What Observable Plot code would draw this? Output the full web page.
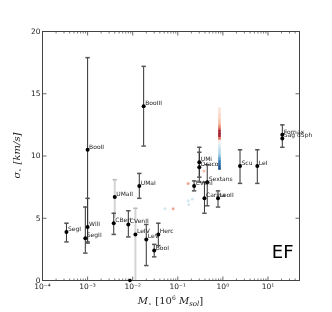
<!DOCTYPE html>
<html><head><meta charset="utf-8">
<script src="https://cdn.jsdelivr.net/npm/d3@7"></script>
<script src="https://cdn.jsdelivr.net/npm/@observablehq/plot@0.6"></script>
<style>body{margin:0;background:#fff} svg{display:block; will-change: transform; opacity: 0.999}</style>
</head><body><div id="chart"></div>
<script>
// Dwarf galaxies: stellar mass [1e6 Msun], velocity dispersion [km/s]
const names   = ["SegI","WilI","SegII","BooII","CBerI","UMaII","CVenII","LeIV","UMaI","BooIII","LeV","BooI","Herc","CVenI","UMi","Draco","Sextans","Carina","LeoII","Scu","LeI","Fornax","Sag dSph"];
const mass    = [3.4e-4,1.0e-3,8.9e-4,1.0e-3,3.8e-3,4.0e-3,8.0e-3,1.15e-2,1.4e-2,1.75e-2,2.0e-2,3.0e-2,3.7e-2,0.23,0.30,0.30,0.45,0.39,0.78,2.4,5.8,20.8,20.8];
const sigma   = [3.9,4.3,3.4,10.5,4.6,6.7,4.5,3.7,7.6,14.0,3.3,2.4,3.7,7.6,9.5,9.1,7.9,6.6,6.6,9.2,9.2,11.7,11.4];
const sigmaLo = [3.1,3.0,2.2,3.1,3.7,5.0,3.5,0.0,6.6,10.8,1.2,1.9,2.8,7.2,8.3,7.9,6.0,5.4,5.9,7.8,7.8,10.7,11.4];
const sigmaHi = [4.6,6.6,5.9,17.9,5.4,8.1,5.6,5.8,8.6,17.2,4.5,2.9,4.6,8.0,10.7,10.3,9.3,7.9,7.2,10.5,10.5,12.5,11.4];
const greyBars = ["UMaII","LeIV"];
const zeroMass = [0.0087];
const zeroSigma = [0];

// Simulation track (coloured by time)
const simMass  = [0.84,0.84,0.84,0.84,0.84,0.84,0.84,0.84,0.84,0.84,0.84,0.84,0.84,0.84,0.84,0.84,0.84,0.84,0.84,0.84,0.84,0.84,0.84,0.84,0.84];
const simSigma = [13.8,13.6,13.4,13.2,13.0,12.8,12.6,12.4,12.2,12.0,11.8,11.6,11.4,11.2,11.0,10.8,10.6,10.4,10.2,10.0,9.8,9.6,9.4,9.2,9.0];
const simT     = [0.44,0.43,0.41,0.40,0.38,0.36,0.33,0.28,0.2,0.1,0.07,0.1,0.22,0.47,0.53,0.58,0.62,0.64,0.66,0.70,0.78,0.84,0.88,0.92,0.95];
// scattered simulation snapshots
const scatMass  = [0.052,0.079,0.17,0.17,0.175,0.21,0.38];
const scatSigma = [5.76,5.76,7.8,6.4,6.1,6.55,8.8];
const scatT     = [0.62,0.25,0.25,0.62,0.62,0.62,0.3];

const xMajor = [1e-4,1e-3,1e-2,1e-1,1,10];
const xTickLabels = ["10\u207B\u2074","10\u207B\u00B3","10\u207B\u00B2","10\u207B\u00B9","10\u2070","10\u00B9"];
const yTicks = [0,5,10,15,20];
const xMinor = [];
for (const d of xMajor) for (let k = 2; k <= 9; k++) if (d*k <= 50) xMinor.push(d*k);

const gal = names.map((n,i)=>({name:n, mass:mass[i], sigma:sigma[i], lo:sigmaLo[i], hi:sigmaHi[i], grey: greyBars.includes(n)}));
const sim = simMass.map((m,i)=>({m, s:simSigma[i], t:simT[i]}));
const scat = scatMass.map((m,i)=>({m, s:scatSigma[i], t:scatT[i]}));
const zero = zeroMass.map((m,i)=>({m, s:zeroSigma[i]}));

const vTick = len => ({draw(c){c.moveTo(0,0); c.lineTo(0,len);}});
const hTick = len => ({draw(c){c.moveTo(0,0); c.lineTo(len,0);}});
const cap = {draw(c){c.moveTo(-2.2,0); c.lineTo(2.2,0);}};
const axisCol = "#444";
const W = 332, H = 312, mL = 42, mR = 33, mT = 31, mB = 32;

const plot = Plot.plot({
  width: W, height: H,
  marginLeft: mL, marginRight: mR, marginTop: mT, marginBottom: mB,
  style: {fontFamily: "DejaVu Sans", fontSize: "7.5px", background: "#fff", color: "#222"},
  x: {type: "log", domain: [1e-4, 50], ticks: xMajor, tickFormat: d => xTickLabels[xMajor.indexOf(d)], tickSize: 0, tickPadding: 3, label: null},
  y: {domain: [0, 20], ticks: yTicks, tickSize: 0, tickPadding: 2, label: null},
  color: {type: "linear", scheme: "RdBu", domain: [0, 1]},
  marks: [
    Plot.frame({stroke: axisCol}),
    // inward ticks
    Plot.dot(xMajor, {x: d=>d, frameAnchor: "bottom", symbol: vTick(-4), stroke: axisCol, fill: "none", strokeWidth: 0.8}),
    Plot.dot(xMajor, {x: d=>d, frameAnchor: "top", symbol: vTick(4), stroke: axisCol, fill: "none", strokeWidth: 0.8}),
    Plot.dot(xMinor, {x: d=>d, frameAnchor: "bottom", symbol: vTick(-2), stroke: axisCol, fill: "none", strokeWidth: 0.7}),
    Plot.dot(xMinor, {x: d=>d, frameAnchor: "top", symbol: vTick(2), stroke: axisCol, fill: "none", strokeWidth: 0.7}),
    Plot.dot(yTicks, {y: d=>d, frameAnchor: "left", symbol: hTick(4), stroke: axisCol, fill: "none", strokeWidth: 0.8}),
    Plot.dot(yTicks, {y: d=>d, frameAnchor: "right", symbol: hTick(-4), stroke: axisCol, fill: "none", strokeWidth: 0.8}),
    // simulation
    Plot.dot(scat, {x: "m", y: "s", fill: "t", r: 1.5, fillOpacity: 0.7}),
    Plot.dot(sim, {x: "m", y: "s", fill: "t", r: 1.5, symbol: "square"}),
    // error bars
    Plot.ruleX(gal.filter(d=>d.grey && d.hi>d.lo), {x: "mass", y1: "lo", y2: "hi", stroke: "#d4d4d4", strokeWidth: 2}),
    Plot.dot(gal.filter(d=>d.grey && d.hi>d.lo), {x: "mass", y: "hi", symbol: cap, stroke: "#bbb", fill: "none"}),
    Plot.ruleX(gal.filter(d=>!d.grey && d.hi>d.lo), {x: "mass", y1: "lo", y2: "hi", stroke: "#333", strokeWidth: 1}),
    Plot.dot(gal.filter(d=>!d.grey && d.hi>d.lo), {x: "mass", y: "hi", symbol: cap, stroke: "#555", fill: "none"}),
    Plot.dot(gal.filter(d=>!d.grey && d.hi>d.lo), {x: "mass", y: "lo", symbol: cap, stroke: "#555", fill: "none"}),
    Plot.dot(gal, {x: "mass", y: "sigma", fill: "#000", r: 2}),
    Plot.dot(zero, {x: "m", y: "s", fill: "#000", r: 1.8}),
    Plot.text(gal, {x: "mass", y: "sigma", text: "name", textAnchor: "start", dx: 1.5, dy: -3, fontSize: 6, fill: "#222"}),
    Plot.text(["EF"], {frameAnchor: "bottom-right", text: d=>d, dx: -6, dy: -23, fontSize: 18, textAnchor: "end", lineAnchor: "bottom", fill: "#000"})
  ]
});

document.getElementById("chart").appendChild(plot);

// axis titles with math-style sub/superscripts
const svg = d3.select(plot);
const cx = (mL + W - mR) / 2, cy = (mT + H - mB) / 2;
const xl = svg.append("text").attr("x", cx).attr("y", H - 8).attr("text-anchor", "middle")
  .attr("font-family", "DejaVu Serif").attr("font-size", 10).attr("fill", "#222");
xl.append("tspan").attr("font-style", "italic").text("M");
xl.append("tspan").attr("font-size", 6).attr("dy", 2).text("\u22C6");
xl.append("tspan").attr("dy", -2).text(" [10");
xl.append("tspan").attr("font-size", 6).attr("dy", -4).text("6");
xl.append("tspan").attr("dy", 4).attr("font-style", "italic").text(" M");
xl.append("tspan").attr("font-size", 7).attr("dy", 2).attr("font-style", "italic").text("sol");
xl.append("tspan").attr("dy", -2).text("]");

const yl = svg.append("text").attr("transform", `translate(20,${cy}) rotate(-90)`).attr("text-anchor", "middle")
  .attr("font-family", "DejaVu Serif").attr("font-size", 10).attr("fill", "#222");
yl.append("tspan").attr("font-style", "italic").text("\u03C3");
yl.append("tspan").attr("font-size", 6).attr("dy", 2).text("\u22C6");
yl.append("tspan").attr("dy", -2).attr("font-style", "italic").text(" [km/s]");
</script>
</body></html>
